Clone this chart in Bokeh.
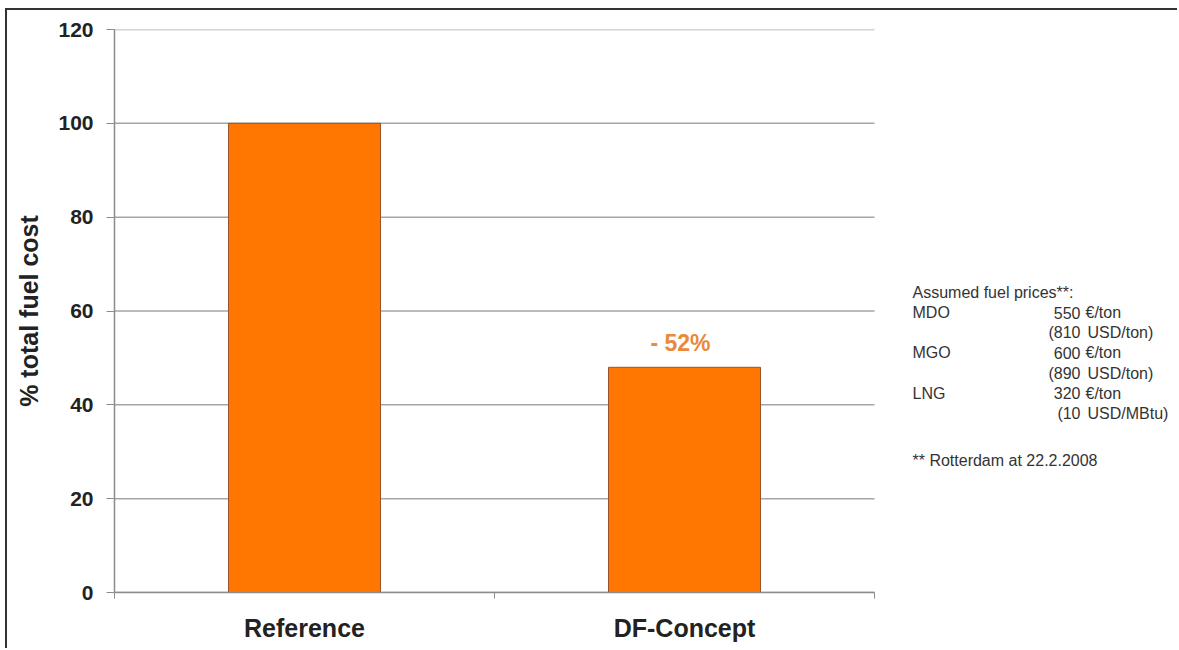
from bokeh.plotting import figure
from bokeh.models import Range1d, FixedTicker, Label
from bokeh.embed import file_html
from bokeh.resources import INLINE

# ---- data ----
categories = ["Reference", "DF-Concept"]
values = [100, 48]
change_label = "- 52%"
y_ticks = [0, 20, 40, 60, 80, 100, 120]

note_title = "Assumed fuel prices**:"
fuel_names = ["MDO", "", "MGO", "", "LNG", ""]
fuel_numbers = ["550", "(810", "600", "(890", "320", "(10"]
fuel_units = ["\u20ac/ton", "USD/ton)", "\u20ac/ton", "USD/ton)", "\u20ac/ton", "USD/MBtu)"]
note_footer = "** Rotterdam at 22.2.2008"

FONT = "Liberation Sans"
BAR = "#FF7700"
GRID = "#A6A6A6"
AXIS = "#8C8C8C"

# layout (pixels)
CAT_PX = 380
FRAME_W = 1065
n = len(categories)

p = figure(width=1172, height=640, output_backend="svg", toolbar_location=None,
           x_range=Range1d(0, FRAME_W / CAT_PX), y_range=Range1d(0, 120),
           min_border_left=107, min_border_right=0, min_border_top=19, min_border_bottom=58)
p.styles = {"border-left": "2px solid #333", "border-top": "2px solid #333",
            "margin-left": "5px", "margin-top": "8px"}
p.outline_line_color = None
p.background_fill_color = "white"
p.border_fill_color = "white"

# grid lines only across the category area
p.xgrid.grid_line_color = None
p.ygrid.grid_line_color = None
p.segment(x0=[0] * len(y_ticks), x1=[n] * len(y_ticks), y0=y_ticks, y1=y_ticks,
          line_color=GRID, line_width=1.5)

xs = [i + 0.5 for i in range(n)]
p.vbar(x=xs, top=values, width=0.4, fill_color=BAR, line_color="#9A5228", line_width=1)

# y axis
p.yaxis.ticker = FixedTicker(ticks=y_ticks)
p.yaxis.axis_label = "% total fuel cost"
p.yaxis.axis_label_text_font = FONT
p.yaxis.axis_label_text_font_size = "25px"
p.yaxis.axis_label_text_font_style = "bold"
p.yaxis.axis_label_text_color = "#222222"
p.yaxis.axis_label_standoff = 12
p.yaxis.major_label_text_font = FONT
p.yaxis.major_label_text_font_size = "21px"
p.yaxis.major_label_text_font_style = "bold"
p.yaxis.major_label_text_color = "#222222"
p.yaxis.major_label_standoff = 13
p.yaxis.major_tick_out = 8
p.yaxis.major_tick_in = 0
p.yaxis.minor_tick_line_color = None
p.yaxis.axis_line_color = AXIS
p.yaxis.major_tick_line_color = AXIS
p.yaxis.axis_line_width = 1.5

# x axis
p.xaxis.bounds = (0, n)
p.xaxis.ticker = FixedTicker(ticks=xs, minor_ticks=list(range(n + 1)))
p.xaxis.major_label_overrides = {x: c for x, c in zip(xs, categories)}
p.xaxis.major_label_text_font = FONT
p.xaxis.major_label_text_font_size = "25px"
p.xaxis.major_label_text_font_style = "bold"
p.xaxis.major_label_text_color = "#222222"
p.xaxis.major_label_standoff = 15
p.xaxis.major_tick_line_color = None
p.xaxis.minor_tick_out = 6
p.xaxis.minor_tick_in = 0
p.xaxis.minor_tick_line_color = AXIS
p.xaxis.axis_line_color = AXIS
p.xaxis.axis_line_width = 1.5

# change label above the second bar
p.add_layout(Label(x=xs[1], y=values[1], y_offset=11, x_offset=-4, text=change_label,
                   text_align="center", text_baseline="bottom",
                   text_font=FONT, text_font_size="23px", text_font_style="bold",
                   text_color="#E8893C"))

# side note (screen units relative to plot frame: left=114, bottom=592 on page)
FL, FB = 114, 592
NX = 912 - FL
NUM_R = 1080 - FL
UNIT_L = 1085 - FL
TS = "16px"
TC = "#333333"

def note(x, page_y, text, align="left"):
    p.add_layout(Label(x=x, y=FB - page_y, x_units="screen", y_units="screen", text=text,
                       text_align=align, text_baseline="middle",
                       text_font=FONT, text_font_size=TS, text_color=TC))

note(NX, 292, note_title)
for i, (nm, num, u) in enumerate(zip(fuel_names, fuel_numbers, fuel_units)):
    yy = 312 + i * 20.2
    if nm:
        note(NX, yy, nm)
    note(NUM_R, yy, num, "right")
    note(UNIT_L + (2 if u.startswith("USD") else 0), yy, u)
note(NX, 460, note_footer)

open("out.html", "w").write(file_html(p, INLINE))
